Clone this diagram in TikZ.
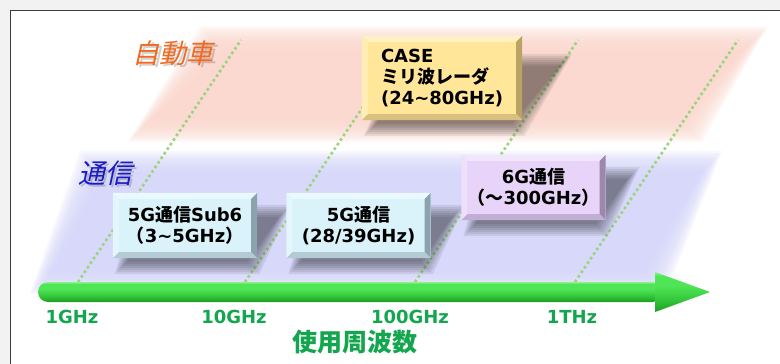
\documentclass[tikz,border=0pt]{standalone}
\usepackage{fontspec}
\setmainfont{DejaVu Sans}
\newfontfamily\jp{Noto Sans CJK JP}
\newfontfamily\jpslant{Noto Sans CJK JP}[FakeSlant=0.22]

\definecolor{pageback}{HTML}{F2F2F2}
\definecolor{frameline}{HTML}{3C3C3C}
\definecolor{pinkband}{HTML}{FBD8CE}
\definecolor{blueband}{HTML}{D6D7FA}
\definecolor{dotgreen}{HTML}{9AD47C}
\definecolor{labgreen}{HTML}{14A64E}
\definecolor{carorange}{HTML}{F26A1F}
\definecolor{comblue}{HTML}{1A1AC4}
\definecolor{tubedark}{HTML}{1E9B22}
\definecolor{tubemid}{HTML}{33C63A}
\definecolor{tubebright}{HTML}{4FE556}
\definecolor{tubelight}{HTML}{8CF28F}
\definecolor{caseface}{HTML}{FFE699}
\definecolor{casetop}{HTML}{FFF1C4}
\definecolor{caseleft}{HTML}{FFEDB3}
\definecolor{caseright}{HTML}{B9A465}
\definecolor{casebot}{HTML}{D8C07F}
\definecolor{sub6face}{HTML}{DAF3FB}
\definecolor{sub6top}{HTML}{EAF9FD}
\definecolor{sub6left}{HTML}{E3F6FC}
\definecolor{sub6right}{HTML}{8AA3AC}
\definecolor{sub6bot}{HTML}{B5CBD3}
\definecolor{sixface}{HTML}{E8D4F8}
\definecolor{sixtop}{HTML}{F2E6FC}
\definecolor{sixleft}{HTML}{EEDFFA}
\definecolor{sixright}{HTML}{9C88AA}
\definecolor{sixbot}{HTML}{C2ADD5}

\pgfdeclarelayer{back}
\pgfdeclarelayer{shade}
\pgfsetlayers{back,shade,main}

\pgfdeclareverticalshading{tube}{100bp}{color(0bp)=(tubedark); color(25bp)=(tubedark); color(40bp)=(tubemid); color(58bp)=(tubebright); color(70bp)=(tubebright); color(75bp)=(tubelight); color(100bp)=(tubelight)}

\tikzstyle{bevbox} = [rectangle, inner sep=0pt, align=center, minimum width=144pt, minimum height=65pt, font=\fontsize{18}{21}\selectfont\bfseries]
\tikzstyle{freqline} = [dotgreen, line width=2.6pt, dash pattern=on 2.6pt off 2.9pt]
\tikzstyle{ticklabel} = [text=labgreen, font=\fontsize{18}{20}\selectfont\bfseries]
\tikzstyle{axtitle} = [text=labgreen, font=\jp\fontsize{25}{28}\selectfont\bfseries]
\tikzstyle{catlabel} = [font=\jpslant\fontsize{27}{30}\selectfont]
\tikzstyle{catshadow} = [catlabel, text=black, text opacity=0.18]

% bevel edges of a box node: top, left, right, bottom colours
\newcommand{\bevel}[5]{%
  \fill[#2] (#1.north west) -- (#1.north east) -- ([shift={(-6,6)}]#1.north east) -- ([shift={(6,6)}]#1.north west) -- cycle;
  \fill[#3] (#1.north west) -- ([shift={(6,6)}]#1.north west) -- ([shift={(6,-6)}]#1.south west) -- (#1.south west) -- cycle;
  \fill[#4] (#1.north east) -- (#1.south east) -- ([shift={(-6,-6)}]#1.south east) -- ([shift={(-6,6)}]#1.north east) -- cycle;
  \fill[#5] (#1.south west) -- ([shift={(6,-6)}]#1.south west) -- ([shift={(-6,-6)}]#1.south east) -- (#1.south east) -- cycle;
}
% soft slanted shadow behind a box node
\newcommand{\boxshade}[3]{%
  \begin{pgfonlayer}{shade}
  \foreach \d in {0,2,...,12}
    \fill[black, fill opacity=0.075] ([shift={({14-\d},{4+\d})}]#1.south west) -- ([shift={({\d-10},{4+\d})}]#1.south east)
      -- ([shift={({#2+\d-6},{#3+6-\d})}]#1.north east) -- ([shift={({#2+6-\d},{#3+6-\d})}]#1.north west) -- cycle;
  \end{pgfonlayer}}

\begin{document}
\begin{tikzpicture}[x=1pt, y=-1pt]
\useasboundingbox (0,0) rectangle (780,364);

\begin{pgfonlayer}{back}
\fill[pageback] (0,0) rectangle (780,364);
\filldraw[fill=white, draw=frameline, line width=1.6pt] (10.5,10.5) rectangle (795,380);
% bands
\coordinate (pb1) at (140,130);
\coordinate (pb2) at (212,38);
\coordinate (pb3) at (756,38);
\coordinate (pb4) at (690,130);
\coordinate (bb1) at (42,282);
\coordinate (bb2) at (92,163);
\coordinate (bb3) at (710,163);
\coordinate (bb4) at (654,282);
\foreach \d in {0,2,...,24} {
  \fill[pinkband, fill opacity=0.17] ([shift={({12-\d},{\d-12})}]pb1) -- ([shift={({12-\d},{12-\d})}]pb2) -- ([shift={({\d-12},{12-\d})}]pb3) -- ([shift={({\d-12},{\d-12})}]pb4) -- cycle;
  \fill[blueband, fill opacity=0.17] ([shift={({12-\d},{\d-12})}]bb1) -- ([shift={({12-\d},{12-\d})}]bb2) -- ([shift={({\d-12},{12-\d})}]bb3) -- ([shift={({\d-12},{\d-12})}]bb4) -- cycle;
}
% frequency guide lines
\foreach \i/\xa in {1/78,2/245,3/415,4/575} {
  \coordinate (t\i) at (\xa,282);
  \coordinate (u\i) at (\xa+163,40);
  \draw[freqline] (t\i) -- (u\i);
}
\end{pgfonlayer}

% frequency axis
\shade[shading=tube, rounded corners=10pt] (38,282) rectangle (662,302);
\shade[shading=tube] (655,272) -- (710,292) -- (655,312) -- cycle;

\node (f1) [ticklabel] at (72,317) {1GHz};
\node (f2) [ticklabel] at (234,317) {10GHz};
\node (f3) [ticklabel] at (410,317) {100GHz};
\node (f4) [ticklabel] at (572,317) {1THz};
\node (axname) [axtitle] at (355,342) {使用周波数};

% category labels
\node (carshadow) [catshadow] at (175.5,55.5) {自動車};
\node (car) [catlabel, text=carorange] at (173,53) {自動車};
\node (comshadow) [catshadow] at (107.5,175.5) {通信};
\node (com) [catlabel, text=comblue] at (105,173) {通信};

% boxes
\node (case) [bevbox, fill=caseface, minimum width=160pt, minimum height=84pt, align=left] at (442,78) {CASE\\{\jp ミリ波レーダ}\\(24\textasciitilde80GHz)};
\node (sub6) [bevbox, fill=sub6face] at (185,225.5) {5G{\jp 通信}Sub6\\{\jp （}3\textasciitilde5GHz{\jp ）}};
\node (mmw) [bevbox, fill=sub6face] at (358.5,225.5) {5G{\jp 通信}\\(28/39GHz)};
\node (six) [bevbox, fill=sixface] at (533.5,187.5) {6G{\jp 通信}\\{\jp （～}300GHz{\jp ）}};

\bevel{case}{casetop}{caseleft}{caseright}{casebot}
\bevel{sub6}{sub6top}{sub6left}{sub6right}{sub6bot}
\bevel{mmw}{sub6top}{sub6left}{sub6right}{sub6bot}
\bevel{six}{sixtop}{sixleft}{sixright}{sixbot}

\boxshade{case}{44}{24}
\boxshade{sub6}{28}{18}
\boxshade{mmw}{28}{18}
\boxshade{six}{28}{18}
\end{tikzpicture}
\end{document}
